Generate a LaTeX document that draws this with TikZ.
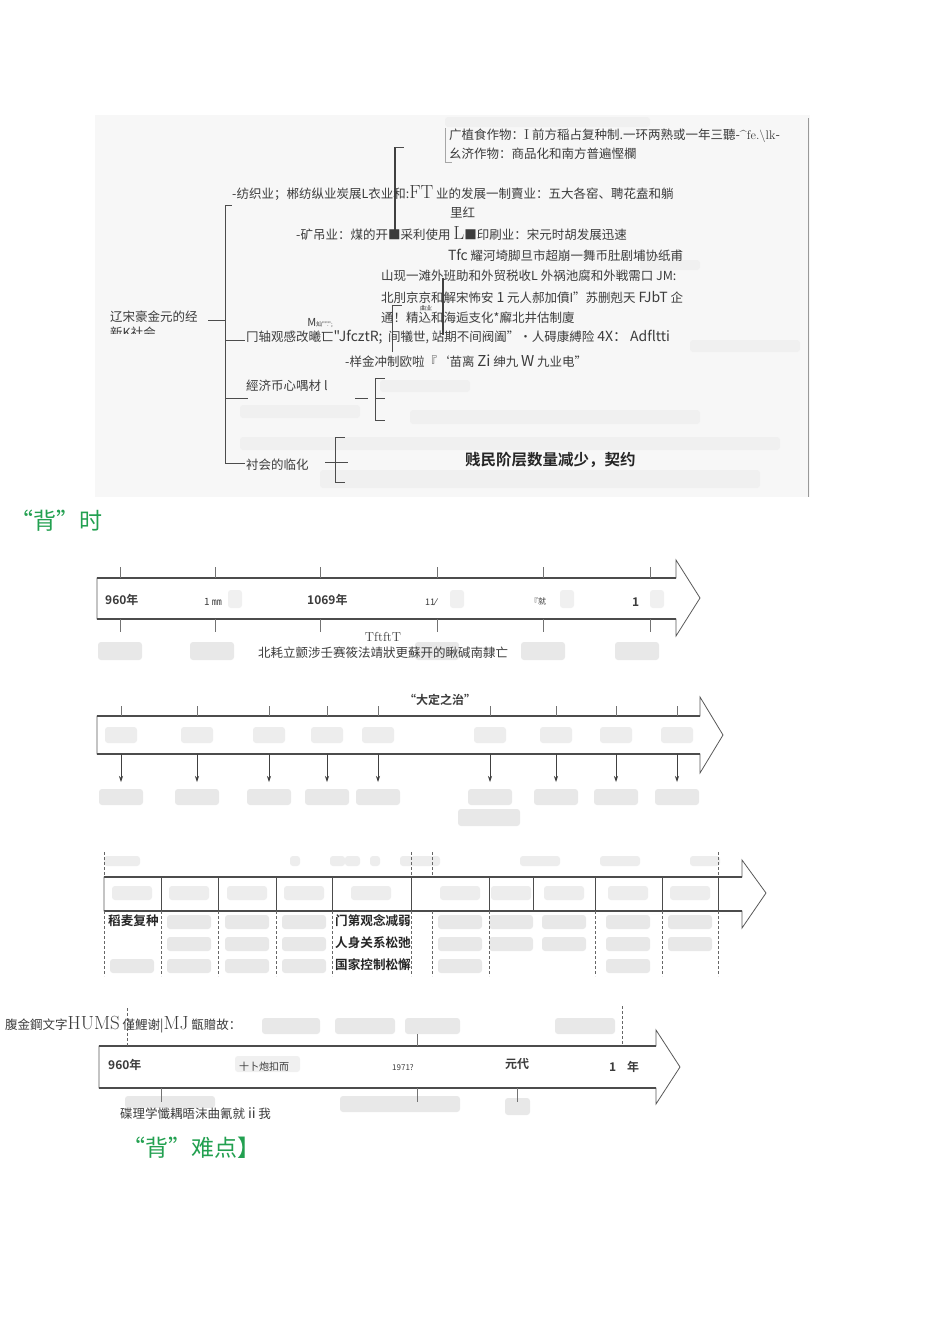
\documentclass[tikz,border=0pt]{standalone}
\usepackage{fontspec}
\newfontfamily\cjk{Noto Sans CJK SC}
\newfontfamily\cjkb{Noto Sans CJK SC Bold}
\newfontfamily\djv{DejaVu Sans}
\usetikzlibrary{arrows.meta}
\definecolor{hgreen}{RGB}{34,160,80}
\definecolor{ink}{RGB}{60,60,60}
\tikzset{
  tx/.style={anchor=west,inner sep=0pt,font=\cjk\fontsize{12.5}{13}\selectfont,text=ink},
  txc/.style={inner sep=0pt,font=\cjk\fontsize{12.5}{13}\selectfont,text=ink},
  bx/.style={inner sep=0pt,font=\cjkb\fontsize{12.6}{14}\selectfont,text=black!85},
  ln/.style={draw=black!70,line width=0.8pt},
  thk/.style={draw=black!75,line width=1.6pt},
  blur/.style={fill=black!9,draw=none,rounded corners=3pt},
  tick/.style={draw=black!55,line width=0.6pt},
  dsh/.style={draw=black!60,line width=0.6pt,dash pattern=on 3pt off 2pt},
  head/.style={anchor=west,inner sep=0pt,font=\cjk\fontsize{23}{25}\selectfont,text=hgreen}
}
\begin{document}
\begin{tikzpicture}[x=1pt,y=-1pt]
\useasboundingbox (0,0) rectangle (950,1318);
\fill[white] (0,0) rectangle (950,1318);
% ---------- scanned mind map ----------
\fill[black!3] (95,115) rectangle (810,497);
\foreach \a/\b/\c/\d in {445/117/650/127, 410/410/700/424, 240/437/780/450, 320/470/760/488, 240/405/360/418, 380/380/470/392, 640/260/700/270, 690/340/800/352}
  \fill[blur,fill=black!6] (\a,\b) rectangle (\c,\d);
\draw[ln] (225,205) -- (225,463) -- (245,463);
\draw[ln] (208,320) -- (225,320);
\draw[ln] (225,205) -- (232,205);
\draw[ln] (225,340) -- (245,340);
\draw[ln] (225,398) -- (248,398);
\draw[thk] (395,147) -- (395,237);
\draw[ln] (395,147) -- (404,147);
\draw[ln,draw=black!35] (445,128) -- (445,162) -- (452,162);
\draw[thk] (443,278) -- (443,335);
\draw[ln] (392,352) -- (392,305) -- (402,305);
\draw[ln] (355,398) -- (368,398);
\draw[ln] (375,378) -- (375,420);
\foreach \yy in {378,398,420} \draw[ln] (375,\yy) -- (385,\yy);
\draw[ln] (335,437) -- (335,482);
\draw[ln] (335,437) -- (345,437);
\draw[ln] (335,482) -- (345,482);
\draw[ln] (325,462) -- (348,462);
\draw[ln,draw=black!40] (808,118) -- (808,497);
\node[tx] (t1) at (449,136) {广植食作物：\textrm{\Large I} 前方稲占复种制.一环两熟或一年三聽-\textrm{\^{}fe.\textbackslash{}lk}-};
\node[tx] (t2) at (449,154) {幺济作物：商品化和南方普遍慳欄};
\node[tx] (t3) at (232,193) {-纺织业；郴纺纵业炭展L衣业和:\textrm{\fontsize{19}{19}\selectfont FT} 业的发展一制賣业：五大\textit{各窑}、\textit{聘花盍}和躺};
\node[tx] (t4) at (450,213) {里红};
\node[tx] (t5) at (296,234) {-矿吊业：\textit{煤的开}■\textit{采}利使用 \textrm{\fontsize{19}{19}\selectfont L}■印刷业：宋元时胡发展迅速};
\node[tx] (t6) at (448,255) {{\fontsize{14}{14}\selectfont Tfc} 耀河埼脚旦市超崩一舞币肚剧埔协纸甫};
\node[tx] (t7) at (381,276) {山现一滩外班助和外贸税收L 外祸池腐和外戦需口 \textit{JM:}};
\node[tx] (t8) at (381,297) {北刖京京和解宋怖安 {\fontsize{14}{14}\selectfont 1} 元人郝加僨I”苏删剋天 {\fontsize{14}{14}\selectfont FJbT} 企};
\node[txc,font=\cjk\fontsize{6}{6}\selectfont] (t8b) at (426,308) {曲业};
\node[tx] (t9) at (381,318) {通！精込和海逅支化*廨北井估制廈};
\node[tx] (t10) at (246,337) {冂轴观感改曦匸{\fontsize{14}{14}\selectfont "JfcztR;}\ \ 间犠世, 站期不间阀阖”•人碍康縛险 {\fontsize{14}{14}\selectfont 4X：\ Adfltti}};
\node[txc,font=\cjk\fontsize{6}{6}\selectfont] (t10b) at (320,323) {{\fontsize{11}{11}\selectfont M}灿"".";};
\node[tx] (t11) at (345,361) {-样金冲制欧啦『‘苗离 {\fontsize{15}{15}\selectfont Zi} 绅九 {\fontsize{15}{15}\selectfont W} 九业电”};
\node[tx] (t12) at (246,386) {經济币心喁材 l};
\node[tx] (root) at (110,317) {辽宋豪金元的经};
\begin{scope}
\clip (100,322) rectangle (210,333);
\node[tx] (root2) at (110,333) {新K社会};
\end{scope}
\begin{scope}
\clip (240,450) rectangle (320,469);
\node[tx] (soc) at (246,465) {衬会的临化};
\end{scope}
\node[inner sep=0pt,font=\cjkb\fontsize{15.5}{16}\selectfont,text=black!85,anchor=west] (t13) at (465,460) {贱民阶层数量减少，契约};
% ---------- heading ----------
\node[head] (h1) at (10,521) {“背”时};
% ---------- timeline 1 ----------
\foreach \xx in {120,212,437,543,637} \fill[blur] (\xx-22,642) rectangle (\xx+22,660);
\foreach \xx in {228,450,560,650} \fill[blur,fill=black!6] (\xx,590) rectangle (\xx+14,608);
\draw[ln,draw=black!65] (97,578) -- (676,578) -- (676,560) -- (700,598) -- (676,636) -- (676,619) -- (97,619) -- cycle;
\draw[thk,draw=black!70] (97,578) -- (676,578);
\draw[thk,draw=black!70] (97,619) -- (676,619);
\foreach \xx in {120,215,320,437,543,650} {\draw[tick] (\xx,567) -- (\xx,578); \draw[tick] (\xx,619) -- (\xx,632);}
\node[tx,font=\cjkb\fontsize{12}{12}\selectfont] (a1) at (105,600) {960年};
\node[tx,font=\cjk\fontsize{10}{10}\selectfont] (a2) at (204,602) {1 ㎜};
\node[tx,font=\cjkb\fontsize{12}{12}\selectfont] (a3) at (307,600) {1069年};
\node[tx,font=\cjk\fontsize{9}{9}\selectfont] (a4) at (425,602) {11{\djv ⁄}};
\node[tx,font=\cjk\fontsize{8}{8}\selectfont] (a5) at (530,601) {『就};
\node[tx,font=\cjkb\fontsize{12}{12}\selectfont] (a6) at (632,602) {1};
\node[txc,font=\rmfamily\fontsize{13}{13}\selectfont] (a7) at (383,637) {TftftT};
\node[txc] (a8) at (383,653) {北耗立颤涉壬赛筱法靖狀更蘇开的瞅碱南隸亡};
% ---------- timeline 2 ----------
\foreach \xx in {121,197,269,327,378,490,556,616,677} {\fill[blur,fill=black!7] (\xx-16,727) rectangle (\xx+16,743); \fill[blur] (\xx-22,789) rectangle (\xx+22,805);}
\fill[blur] (458,809) rectangle (520,826);
\draw[ln,draw=black!65] (97,716) -- (700,716) -- (700,697) -- (723,735) -- (700,773) -- (700,754) -- (97,754) -- cycle;
\draw[thk,draw=black!70] (97,716) -- (700,716);
\draw[thk,draw=black!70] (97,754) -- (700,754);
\foreach \xx [count=\i] in {121,197,269,327,378,490,556,616,677} {
  \draw[tick] (\xx,706) -- (\xx,716);
  \coordinate (p\i) at (\xx,754);
  \coordinate (q\i) at (\xx,782);
  \draw[draw=black!75,line width=0.7pt,-{Stealth[length=6pt,width=4pt]}] (p\i) -- (q\i);
}
\node[txc,font=\cjkb\fontsize{12}{12}\selectfont] (dd) at (440,700) {“大定之治”};
% ---------- timeline 3 ----------
\foreach \a/\b in {104/140,290/300,330/345,345/360,370/380,400/440,520/560,600/640,690/720} \fill[blur,fill=black!7] (\a,856) rectangle (\b,866);
\foreach \xx in {132,189,247,304,371,460,511,564,628,690} \fill[blur,fill=black!7] (\xx-20,886) rectangle (\xx+20,900);
\foreach \xx in {189,247,304,460,511,564,628,690} {\fill[blur] (\xx-22,915) rectangle (\xx+22,929); \fill[blur] (\xx-22,937) rectangle (\xx+22,951);}
\foreach \xx in {132,189,247,304,460,628} \fill[blur] (\xx-22,959) rectangle (\xx+22,973);
\draw[ln,draw=black!65] (104,877) -- (742,877) -- (742,860) -- (766,893) -- (742,928) -- (742,911) -- (104,911) -- cycle;
\draw[thk,draw=black!70] (104,877) -- (742,877);
\draw[thk,draw=black!70] (104,911) -- (742,911);
\foreach \xx in {161,218,276,332,411,489,533,595,662,718} \draw[ln] (\xx,877) -- (\xx,911);
\foreach \xx in {104,161,218,276,332,411,432,489,595,662,718} \draw[dsh] (\xx,911) -- (\xx,976);
\foreach \xx in {104,411,432,718} \draw[dsh] (\xx,852) -- (\xx,877);
\node[bx,anchor=west] (c1) at (108,921) {稻麦复种};
\node[bx,anchor=west] (c2) at (335,921) {门第观念减弱};
\node[bx,anchor=west] (c3) at (335,943) {人身关系松弛};
\node[bx,anchor=west] (c4) at (335,965) {国家控制松懈};
% ---------- timeline 4 ----------
\foreach \a/\b/\c/\d in {262/1018/320/1034, 335/1018/395/1034, 405/1018/460/1034, 555/1018/615/1034, 125/1096/215/1108, 340/1096/460/1112, 505/1098/530/1115} \fill[blur] (\a,\b) rectangle (\c,\d);
\fill[blur,fill=black!6] (235,1056) rectangle (300,1072);
\draw[ln,draw=black!65] (99,1046) -- (656,1046) -- (656,1030) -- (680,1067) -- (656,1104) -- (656,1088) -- (99,1088) -- cycle;
\draw[thk,draw=black!70] (99,1046) -- (656,1046);
\draw[thk,draw=black!70] (99,1088) -- (656,1088);
\draw[dsh] (127,1008) -- (127,1046);
\draw[dsh] (622,1006) -- (622,1046);
\draw[tick] (417,1034) -- (417,1046);
\foreach \xx in {161,417,517} \draw[tick] (\xx,1088) -- (\xx,1102);
\node[tx,font=\cjkb\fontsize{12}{12}\selectfont] (b1) at (108,1065) {960年};
\node[txc,font=\cjk\fontsize{10}{10}\selectfont] (b2) at (264,1067) {十卜炮扣而};
\node[txc,font=\cjk\fontsize{8}{8}\selectfont] (b3) at (403,1067) {1971?};
\node[txc,font=\cjkb\fontsize{12}{12}\selectfont] (b4) at (517,1064) {元代};
\node[tx,font=\cjkb\fontsize{12}{12}\selectfont] (b5) at (609,1067) {1\ \ \ \ 年};
\node[tx] (b6) at (5,1025) {腹金鋼文字\textrm{\fontsize{19}{19}\selectfont HUMS} 僅鯉谢|\textrm{\fontsize{19}{19}\selectfont MJ} 甑贈故：};
\begin{scope}
\clip (100,1105) rectangle (300,1119);
\node[tx] (b7) at (120,1114) {碟理学懺耦晤沫曲氰就 {\fontsize{14}{14}\selectfont ii} 我};
\end{scope}
\node[head] (h2) at (122,1148) {“背”难点】};
\end{tikzpicture}
\end{document}
